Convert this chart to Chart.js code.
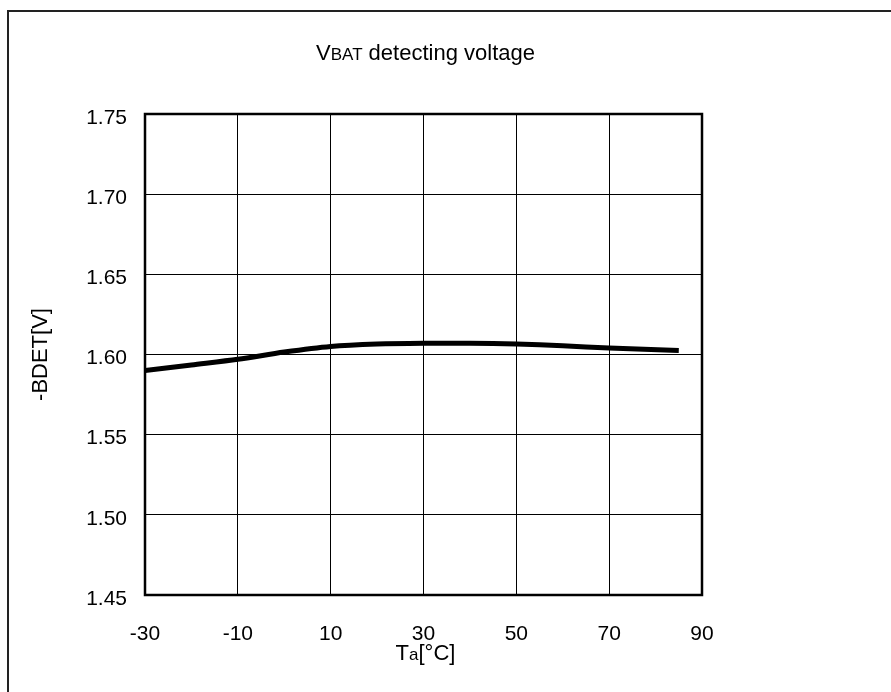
<!DOCTYPE html>
<html>
<head>
<meta charset="utf-8">
<script src="https://cdn.jsdelivr.net/npm/chart.js@4"></script>
<style>
  html, body { margin: 0; padding: 0; background: #fff; }
  #wrap { width: 891px; height: 692px; }
</style>
</head>
<body>
<div id="wrap"><canvas id="chart" width="891" height="692"></canvas></div>
<script>
// temperature [°C] and detect voltage [V]
const temps = [-30, -20, -10, 0, 10, 20, 30, 40, 50, 60, 70, 85];
const volts = [1.590, 1.5935, 1.597, 1.6015, 1.605, 1.6065, 1.607, 1.607, 1.6065, 1.6055, 1.604, 1.6025];
const xTicks = [-30, -10, 10, 30, 50, 70, 90];
const yTicks = [1.45, 1.50, 1.55, 1.60, 1.65, 1.70, 1.75];

const FONT = '"Liberation Sans", Arial, sans-serif';

// outer frame, plot box and the text with mixed sizes
const decor = {
    id: 'decor',
    afterDraw(chart) {
        const ctx = chart.ctx;
        const a = chart.chartArea;
        ctx.save();
        ctx.strokeStyle = '#222';
        ctx.lineWidth = 2;
        ctx.beginPath();
        ctx.moveTo(8, 692);
        ctx.lineTo(8, 11);
        ctx.lineTo(891, 11);
        ctx.stroke();

        ctx.strokeStyle = '#000';
        ctx.lineWidth = 2.5;
        ctx.strokeRect(a.left, a.top, a.right - a.left, a.bottom - a.top);

        // draws a run of [text, size] pieces centred on cx
        const runs = (parts, cx, cy) => {
            let w = 0;
            parts.forEach(p => { ctx.font = p[1] + 'px ' + FONT; w += ctx.measureText(p[0]).width; });
            let x = cx - w / 2;
            ctx.fillStyle = '#000';
            ctx.textBaseline = 'alphabetic';
            ctx.textAlign = 'left';
            parts.forEach(p => {
                ctx.font = p[1] + 'px ' + FONT;
                ctx.fillText(p[0], x, cy);
                x += ctx.measureText(p[0]).width;
            });
        };
        const mid = (a.left + a.right) / 2 + 2;
        runs([['V', 22], ['BAT', 17], [' detecting voltage', 22]], mid, 60);
        runs([['T', 22], ['a', 17], ['[°C]', 22]], mid, 660);

        ctx.translate(41, (a.top + a.bottom) / 2);
        ctx.rotate(-Math.PI / 2);
        ctx.font = '22px ' + FONT;
        ctx.textAlign = 'center';
        ctx.textBaseline = 'middle';
        ctx.fillText('-BDET[V]', 0, 0);
        ctx.restore();
    }
};

new Chart(document.getElementById('chart'), {
    type: 'line',
    data: {
        datasets: [{
            data: temps.map((t, i) => ({ x: t, y: volts[i] })),
            borderColor: '#000',
            borderWidth: 5,
            pointRadius: 0,
            tension: 0.3,
            fill: false
        }]
    },
    options: {
        responsive: false,
        animation: false,
        layout: { padding: { top: 114, right: 189, left: 0, bottom: 0 } },
        plugins: { legend: { display: false }, tooltip: { enabled: false } },
        scales: {
            x: {
                type: 'linear',
                min: -30, max: 90,
                afterBuildTicks: s => { s.ticks = xTicks.map(v => ({ value: v })); },
                afterFit: s => { s.height = 692 - 595; },
                grid: { color: '#000', lineWidth: 1, drawTicks: false },
                border: { display: false },
                ticks: { color: '#000', padding: 27, font: { family: FONT, size: 21 }, maxRotation: 0 }
            },
            y: {
                min: 1.45, max: 1.75,
                afterBuildTicks: s => { s.ticks = yTicks.map(v => ({ value: v })); },
                afterFit: s => { s.width = 145; },
                grid: { color: '#000', lineWidth: 1, drawTicks: false },
                border: { display: false },
                ticks: {
                    color: '#000', padding: 18, labelOffset: 4, font: { family: FONT, size: 21 },
                    callback: v => v.toFixed(2)
                }
            }
        }
    },
    plugins: [decor]
});
</script>
</body>
</html>
